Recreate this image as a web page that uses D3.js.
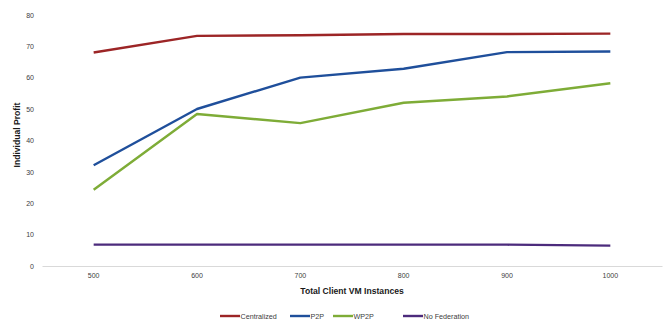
<!DOCTYPE html>
<html>
<head>
<meta charset="utf-8">
<script src="https://cdn.jsdelivr.net/npm/d3@7"></script>
<style>
  html, body { margin: 0; padding: 0; background: #fff; }
  svg { display: block; font-family: "Liberation Sans", Arial, sans-serif; }
</style>
</head>
<body>
<svg id="chart" width="666" height="320"></svg>
<script>
// Client VM instance counts along the x axis
const instances = ["500", "600", "700", "800", "900", "1000"];

// Individual profit per federation scheme
const centralized  = [68.0, 73.3, 73.5, 73.9, 73.9, 74.0];
const p2p          = [32.1, 50.0, 60.0, 62.8, 68.1, 68.3];
const wp2p         = [24.3, 48.4, 45.5, 52.0, 54.0, 58.2];
const noFederation = [6.8, 6.8, 6.8, 6.8, 6.8, 6.5];

const seriesNames  = ["Centralized", "P2P", "WP2P", "No Federation"];
const seriesColors = ["#9c2526", "#1f4f9b", "#7eac37", "#4c2b7c"];
const yTicks = [0, 10, 20, 30, 40, 50, 60, 70, 80];

const series = [centralized, p2p, wp2p, noFederation].map((values, i) => ({
  name: seriesNames[i], color: seriesColors[i], values
}));

const svg = d3.select("#chart");
const plot = { left: 42, right: 662, top: 14.8, bottom: 266 };

const x = d3.scaleBand().domain(instances).range([plot.left, plot.right]);
const y = d3.scaleLinear().domain([0, 80]).range([plot.bottom, plot.top]);
const cx = d => x(d) + x.bandwidth() / 2;

// Baseline axis
const xAxis = svg.append("g")
  .attr("transform", `translate(0,${plot.bottom})`)
  .call(d3.axisBottom(x).tickSize(0).tickPadding(7));
xAxis.select(".domain").attr("stroke", "#d9d9d9").attr("stroke-width", 1);
xAxis.selectAll("text")
  .attr("font-size", "7px").attr("fill", "#404040")
  .attr("font-family", "Liberation Sans, Arial, sans-serif");

// Value axis labels (no line)
const yAxis = svg.append("g")
  .attr("transform", `translate(${plot.left - 2},0)`)
  .call(d3.axisLeft(y).tickValues(yTicks).tickSize(0).tickPadding(6));
yAxis.select(".domain").remove();
yAxis.selectAll("text")
  .attr("font-size", "7px").attr("fill", "#404040")
  .attr("font-family", "Liberation Sans, Arial, sans-serif");

// Lines
const line = d3.line()
  .x((d, i) => cx(instances[i]))
  .y(d => y(d));

svg.append("g").selectAll("path")
  .data(series)
  .join("path")
  .attr("fill", "none")
  .attr("stroke", d => d.color)
  .attr("stroke-width", 2.4)
  .attr("stroke-linejoin", "round")
  .attr("d", d => line(d.values));

// Axis titles
svg.append("text")
  .attr("x", 352).attr("y", 294)
  .attr("text-anchor", "middle")
  .attr("font-size", "8.6px").attr("font-weight", "bold").attr("fill", "#1a1a1a")
  .text("Total Client VM Instances");

svg.append("text")
  .attr("transform", "translate(20,135) rotate(-90)")
  .attr("text-anchor", "middle")
  .attr("font-size", "8.6px").attr("font-weight", "bold").attr("fill", "#1a1a1a")
  .text("Individual Profit");

// Legend
const legendX = [220, 290, 333, 403];
const legend = svg.append("g").selectAll("g")
  .data(series)
  .join("g")
  .attr("transform", (d, i) => `translate(${legendX[i]},316)`);
legend.append("line")
  .attr("x1", 0).attr("x2", 20).attr("y1", 0).attr("y2", 0)
  .attr("stroke", d => d.color).attr("stroke-width", 2.4);
legend.append("text")
  .attr("x", 20.5).attr("y", 2.5)
  .attr("font-size", "7.2px").attr("fill", "#404040")
  .text(d => d.name);
</script>
</body>
</html>
